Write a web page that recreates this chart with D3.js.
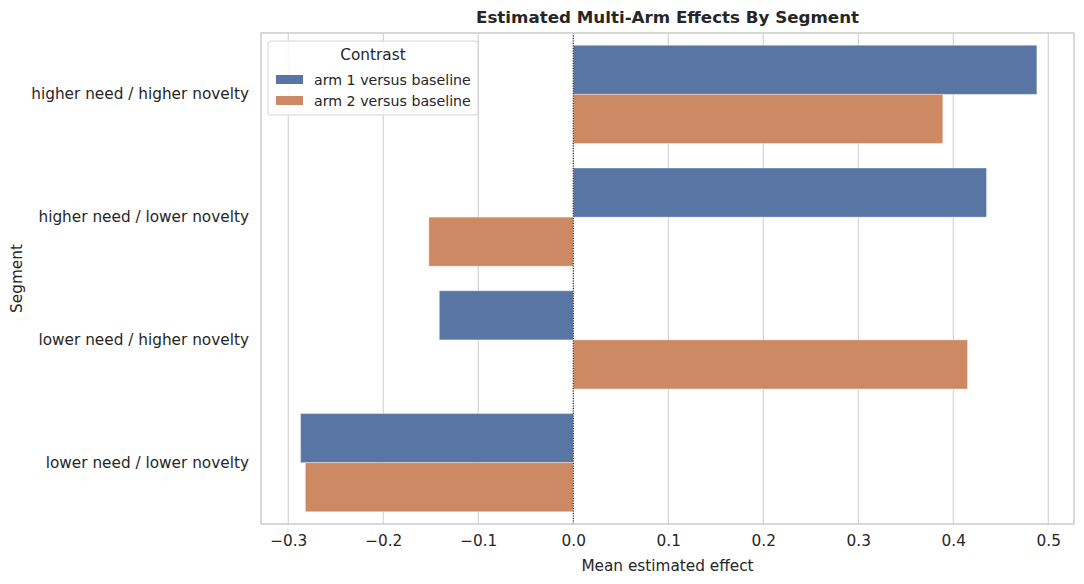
<!DOCTYPE html>
<html>
<head>
<meta charset="utf-8">
<script src="https://cdn.jsdelivr.net/npm/d3@7"></script>
<style>
  body { margin: 0; background: #fff; }
  text { font-family: "DejaVu Sans", sans-serif; fill: #262626; }
</style>
</head>
<body>
<div id="chart"></div>
<script>
// segments shown on the y axis, top to bottom
const segments = [
    'higher need / higher novelty',
    'higher need / lower novelty',
    'lower need / higher novelty',
    'lower need / lower novelty'
];
const contrasts = ['arm 1 versus baseline', 'arm 2 versus baseline'];
// mean estimated effect per segment
const arm1Values = [0.488, 0.435, -0.141, -0.287];
const arm2Values = [0.389, -0.152, 0.415, -0.282];
const xTicks = [-0.3, -0.2, -0.1, 0.0, 0.1, 0.2, 0.3, 0.4, 0.5];
const colors = ['#5975a4', '#cc8963'];

const W = 1084, H = 584;
const margin = {top: 33, right: 10, bottom: 60, left: 261};
const plotW = W - margin.left - margin.right;
const plotH = H - margin.top - margin.bottom;

const rows = [];
segments.forEach((s, i) => {
    rows.push({segment: s, contrast: contrasts[0], value: arm1Values[i]});
    rows.push({segment: s, contrast: contrasts[1], value: arm2Values[i]});
});

const svg = d3.select('#chart').append('svg')
    .attr('width', W)
    .attr('height', H);

const g = svg.append('g')
    .attr('transform', `translate(${margin.left},${margin.top})`);

// scales
const xScale = d3.scaleLinear()
    .domain([-0.3287, 0.5271])
    .range([0, plotW]);

const yScale = d3.scaleBand()
    .domain(segments)
    .range([0, plotH])
    .paddingInner(0.2)
    .paddingOuter(0.1);

const hueScale = d3.scaleBand()
    .domain(contrasts)
    .range([0, yScale.bandwidth()]);

const color = d3.scaleOrdinal().domain(contrasts).range(colors);

// grid lines
g.append('g')
    .selectAll('line')
    .data(xTicks)
    .join('line')
    .attr('x1', d => xScale(d))
    .attr('x2', d => xScale(d))
    .attr('y1', 0)
    .attr('y2', plotH)
    .attr('stroke', '#cccccc')
    .attr('stroke-width', 1);

// bars
g.append('g')
    .selectAll('rect')
    .data(rows)
    .join('rect')
    .attr('x', d => xScale(Math.min(0, d.value)))
    .attr('width', d => Math.abs(xScale(d.value) - xScale(0)))
    .attr('y', d => yScale(d.segment) + hueScale(d.contrast))
    .attr('height', hueScale.bandwidth())
    .attr('fill', d => color(d.contrast))
    .attr('stroke', '#ffffff')
    .attr('stroke-opacity', 0.35)
    .attr('stroke-width', 1);

// zero reference line
g.append('line')
    .attr('x1', xScale(0))
    .attr('x2', xScale(0))
    .attr('y1', 0)
    .attr('y2', plotH)
    .attr('stroke', '#000')
    .attr('stroke-width', 1)
    .attr('stroke-dasharray', '1,1.5');

// frame
g.append('rect')
    .attr('width', plotW)
    .attr('height', plotH)
    .attr('fill', 'none')
    .attr('stroke', '#cccccc')
    .attr('stroke-width', 1.5);

// axes
const xAxis = g.append('g')
    .attr('transform', `translate(0,${plotH})`)
    .call(d3.axisBottom(xScale)
        .tickValues(xTicks)
        .tickSize(0)
        .tickPadding(11)
        .tickFormat(d => d3.format('.1f')(d).replace('-', '\u2212')));
xAxis.select('.domain').remove();
xAxis.selectAll('text')
    .style('font-size', '15.3px')
    .style('font-family', '"DejaVu Sans", sans-serif')
    .attr('fill', '#262626');

const yAxis = g.append('g')
    .call(d3.axisLeft(yScale).tickSize(0).tickPadding(12));
yAxis.select('.domain').remove();
yAxis.selectAll('text')
    .style('font-size', '15.3px')
    .style('font-family', '"DejaVu Sans", sans-serif')
    .attr('fill', '#262626');

// axis labels and title
svg.append('text')
    .attr('x', margin.left + plotW / 2)
    .attr('y', 571)
    .attr('text-anchor', 'middle')
    .style('font-size', '15.3px')
    .text('Mean estimated effect');

svg.append('text')
    .attr('transform', `translate(22,${margin.top + plotH / 2}) rotate(-90)`)
    .attr('text-anchor', 'middle')
    .style('font-size', '15.3px')
    .text('Segment');

svg.append('text')
    .attr('x', margin.left + plotW / 2)
    .attr('y', 23)
    .attr('text-anchor', 'middle')
    .style('font-size', '16.7px')
    .style('font-weight', 'bold')
    .text('Estimated Multi-Arm Effects By Segment');

// legend
const legend = svg.append('g')
    .attr('transform', 'translate(268,41)');

legend.append('rect')
    .attr('width', 210)
    .attr('height', 74)
    .attr('rx', 3)
    .attr('fill', '#ffffff')
    .attr('fill-opacity', 0.8)
    .attr('stroke', '#d6d6d6');

legend.append('text')
    .attr('x', 105)
    .attr('y', 19)
    .attr('text-anchor', 'middle')
    .style('font-size', '15.3px')
    .text('Contrast');

const items = legend.selectAll('.item')
    .data(contrasts)
    .join('g')
    .attr('class', 'item')
    .attr('transform', (d, i) => `translate(8,${34 + i * 21})`);

items.append('rect')
    .attr('width', 27)
    .attr('height', 9)
    .attr('fill', d => color(d));

items.append('text')
    .attr('x', 38)
    .attr('y', 9.5)
    .style('font-size', '14.2px')
    .text(d => d);
</script>
</body>
</html>
